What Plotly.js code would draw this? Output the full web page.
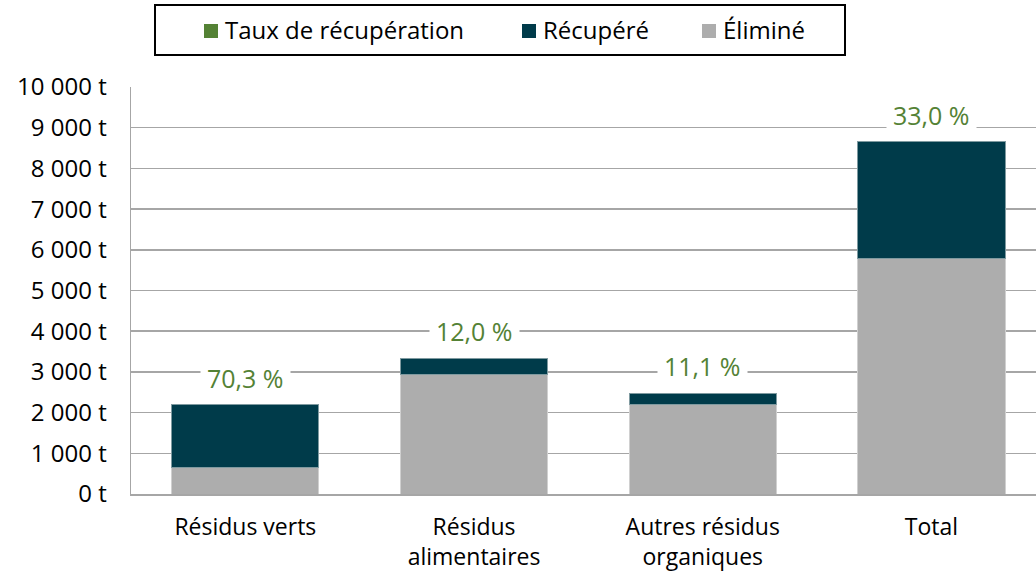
<!DOCTYPE html>
<html><head><meta charset="utf-8">
<script src="https://cdn.plot.ly/plotly-3.0.1.min.js"></script>
<style>html,body{margin:0;padding:0;background:#fff}#chart{width:1036px;height:571px}</style>
</head><body><div id="chart"></div>
<script>
const categories = ['Résidus verts', 'Résidus<br>alimentaires', 'Autres résidus<br>organiques', 'Total'];
const elimine = [650, 2935, 2205, 5795];
const recupere = [1540, 405, 275, 2855];
const tauxRecuperation = [70.3, 12.0, 11.1, 33.0];
const yTickValues = [0, 1000, 2000, 3000, 4000, 5000, 6000, 7000, 8000, 9000, 10000];
const yTickLabels = ['0 t', '1 000 t', '2 000 t', '3 000 t', '4 000 t', '5 000 t', '6 000 t', '7 000 t', '8 000 t', '9 000 t', '10 000 t'];
const legendNames = ['Taux de récupération', 'Récupéré', 'Éliminé'];

const GREEN = '#548235', TEAL = '#003B4A', GRAY = '#ADADAD';
const legendColors = [GREEN, TEAL, GRAY];
const FONT = 'Open Sans, Liberation Sans, Arial, sans-serif';

// plot-area geometry (pixels) used to place the hand-built legend
const W = 1036, H = 571, M = {l: 131, r: 0, t: 87, b: 77};
const PW = W - M.l - M.r, PH = H - M.t - M.b;
const px = x => (x - M.l) / PW;
const py = y => (H - M.b - y) / PH;

const traces = [
  {type: 'bar', name: legendNames[2], x: categories, y: elimine, showlegend: false,
   marker: {color: GRAY, line: {color: '#d0d0d0', width: 1}}, width: 0.643},
  {type: 'bar', name: legendNames[1], x: categories, y: recupere, showlegend: false,
   marker: {color: TEAL, line: {color: '#7f9aa0', width: 1}}, width: 0.643}
];

const annotations = categories.map((c, i) => ({
  x: c, y: elimine[i] + recupere[i], xref: 'x', yref: 'y',
  text: tauxRecuperation[i].toFixed(1).replace('.', ',') + ' %',
  showarrow: false, yshift: 27, bgcolor: '#ffffff', borderpad: 6,
  font: {family: FONT, size: 25, color: GREEN}
}));

// legend (box, swatches, labels)
const legendSwatchX = [204, 522, 702];
const shapes = [{type: 'rect', xref: 'paper', yref: 'paper', x0: px(155), x1: px(845), y0: py(55), y1: py(5),
  line: {color: '#000', width: 2}, fillcolor: '#fff', layer: 'above'}];
legendNames.forEach((n, i) => {
  shapes.push({type: 'rect', xref: 'paper', yref: 'paper', x0: px(legendSwatchX[i]), x1: px(legendSwatchX[i] + 14),
    y0: py(38), y1: py(24), line: {width: 0}, fillcolor: legendColors[i], layer: 'above'});
  annotations.push({xref: 'paper', yref: 'paper', x: px(legendSwatchX[i] + 19), y: py(30), xanchor: 'left', yanchor: 'middle',
    text: n, showarrow: false, font: {family: FONT, size: 24, color: '#000'}});
});

const layout = {
  width: W, height: H,
  margin: {l: M.l, r: M.r, t: M.t, b: M.b, pad: 0},
  barmode: 'stack',
  paper_bgcolor: '#fff', plot_bgcolor: '#fff',
  showlegend: false,
  xaxis: {type: 'category', range: [-0.5, 3.457], showgrid: false, showline: true, linecolor: '#a6a6a6', linewidth: 1.5,
    ticks: '', ticklabelstandoff: 12, tickfont: {family: FONT, size: 23, color: '#000'}, fixedrange: true},
  yaxis: {range: [0, 10000], tickvals: yTickValues, ticktext: yTickLabels,
    showgrid: true, gridcolor: '#a6a6a6', gridwidth: 1.5, zeroline: false,
    showline: true, linecolor: '#a6a6a6', linewidth: 1.5, ticks: '', ticklabelstandoff: 18,
    tickfont: {family: FONT, size: 24, color: '#000'}, fixedrange: true},
  annotations: annotations,
  shapes: shapes
};

Plotly.newPlot('chart', traces, layout, {displayModeBar: false, staticPlot: true});
</script></body></html>
